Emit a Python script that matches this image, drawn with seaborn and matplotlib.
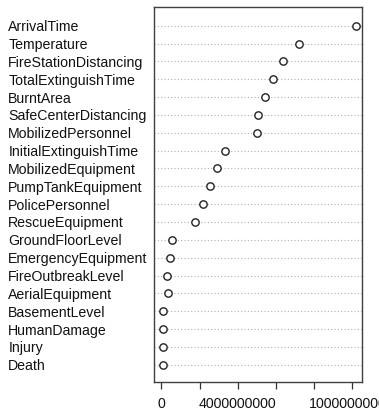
import matplotlib
matplotlib.use("Agg")
import matplotlib.pyplot as plt
import seaborn as sns
import pandas as pd

features = ["ArrivalTime", "Temperature", "FireStationDistancing", "TotalExtinguishTime",
            "BurntArea", "SafeCenterDistancing", "MobilizedPersonnel", "InitialExtinguishTime",
            "MobilizedEquipment", "PumpTankEquipment", "PolicePersonnel", "RescueEquipment",
            "GroundFloorLevel", "EmergencyEquipment", "FireOutbreakLevel", "AerialEquipment",
            "BasementLevel", "HumanDamage", "Injury", "Death"]
importance = [10.20e9, 7.24e9, 6.40e9, 5.83e9, 5.41e9, 5.09e9, 4.99e9, 3.36e9,
              2.92e9, 2.56e9, 2.19e9, 1.78e9, 0.58e9, 0.46e9, 0.31e9, 0.33e9,
              0.07e9, 0.07e9, 0.07e9, 0.07e9]
xtick_values = [0, 2e9, 4e9, 6e9, 8e9, 10e9]
xtick_labels = ["0", "", "4000000000", "", "", "10000000000"]

df = pd.DataFrame({"feature": features, "importance": importance})

sns.set_style("white")
plt.rcParams["font.family"] = ["Liberation Sans", "DejaVu Sans"]

fig = plt.figure(figsize=(3.79, 4.13), dpi=100)
ax = fig.add_axes([0.4071, 0.0758, 0.955 - 0.4071, 0.9823 - 0.0758])

sns.scatterplot(data=df, x="importance", y="feature", ax=ax, marker="o",
                facecolor="white", edgecolor="#222222", linewidth=1.0, s=28, zorder=3)

ax.set_ylim(len(features) - 1 + 0.95, -1.03)
ax.set_xlim(-0.372e9, 10.52e9)
ax.set_yticks(range(len(features)))
ax.set_yticklabels(features, ha="left", fontsize=10.2, color="#111111")
ax.tick_params(axis="y", length=0, pad=105.1)
ax.grid(axis="y", linestyle=(0, (1, 2)), color="#b0b0b0", linewidth=0.8)
ax.grid(axis="x", visible=False)

ax.set_xticks(xtick_values)
ax.set_xticklabels(xtick_labels, fontsize=10.2, color="#111111")
ax.tick_params(axis="x", bottom=True, length=5, width=0.9, color="#333333", pad=6)

ax.set_xlabel("")
ax.set_ylabel("")
for sp in ax.spines.values():
    sp.set_color("#404040")
    sp.set_linewidth(1.0)
    sp.set_visible(True)

fig.savefig("out.png", dpi=100)
